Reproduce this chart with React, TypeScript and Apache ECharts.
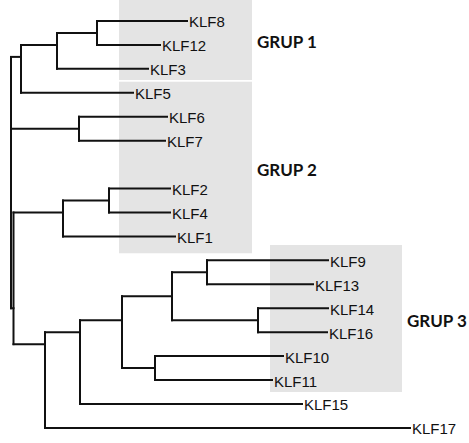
import React, { useEffect, useRef } from "react";
import * as echarts from "echarts";

// Leaves (tips) of the tree
const leafNames = ["KLF8", "KLF12", "KLF3", "KLF5", "KLF6", "KLF7", "KLF2", "KLF4", "KLF1", "KLF9", "KLF13", "KLF14", "KLF16", "KLF10", "KLF11", "KLF15", "KLF17"];
const leafRows = [0, 1, 2, 3, 4, 5, 7, 8, 9, 10, 11, 12, 13, 14, 15, 16, 17];
const leafDepths = [1.76, 1.49, 1.37, 1.22, 1.56, 1.54, 1.59, 1.59, 1.64, 3.17, 3.02, 3.17, 3.16, 2.72, 2.61, 2.91, 3.99];

// Internal nodes
const nodeNames = ["root", "C", "B", "A", "D", "P", "F", "E", "Q", "Q2", "R", "S", "N913", "N1416", "N1011"];
const nodeDepths = [0, 0.1, 0.46, 0.86, 0.68, 0.025, 0.52, 0.98, 0.34, 0.69, 1.11, 1.61, 1.96, 2.47, 1.44];
const nodeChildren = [
  ["C", "D", "P"],
  ["B", "KLF5"],
  ["A", "KLF3"],
  ["KLF8", "KLF12"],
  ["KLF6", "KLF7"],
  ["F", "Q"],
  ["E", "KLF1"],
  ["KLF2", "KLF4"],
  ["Q2", "KLF17"],
  ["R", "KLF15"],
  ["S", "N1011"],
  ["N913", "N1416"],
  ["KLF9", "KLF13"],
  ["KLF14", "KLF16"],
  ["KLF10", "KLF11"],
];

// Groups
const groupNames = ["GRUP 1", "GRUP 2", "GRUP 3"];
const groupRowStart = [-0.88, 2.54, 9.36];
const groupRowEnd = [2.46, 9.7, 15.5];
const groupDepthStart = [1.08, 1.08, 2.59];
const groupDepthEnd = [2.41, 2.41, 3.91];

function leafRowsOf(name: string): number[] {
  const li = leafNames.indexOf(name);
  if (li >= 0) return [leafRows[li]];
  const ni = nodeNames.indexOf(name);
  let out: number[] = [];
  nodeChildren[ni].forEach((c) => (out = out.concat(leafRowsOf(c))));
  return out;
}
function posOf(name: string): [number, number] {
  const li = leafNames.indexOf(name);
  if (li >= 0) return [leafDepths[li], leafRows[li]];
  const ni = nodeNames.indexOf(name);
  const rows = leafRowsOf(name);
  const mean = rows.reduce((a, b) => a + b, 0) / rows.length;
  return [nodeDepths[ni], mean];
}

function buildSegments(): number[][] {
  const segs: number[][] = [];
  nodeNames.forEach((n, i) => {
    const d = posOf(n)[0];
    const ys = nodeChildren[i].map((c) => posOf(c)[1]);
    segs.push([d, Math.min(...ys), d, Math.max(...ys)]);
    nodeChildren[i].forEach((c) => {
      const [cd, cy] = posOf(c);
      segs.push([d, cy, cd, cy]);
    });
  });
  return segs;
}

export default function App() {
  const ref = useRef<HTMLDivElement>(null);
  useEffect(() => {
    if (!ref.current) return;
    const chart = echarts.init(ref.current, undefined, { renderer: "svg" });
    const segments = buildSegments();
    const leafData = leafNames.map((_, i) => [leafDepths[i], leafRows[i]]);
    const groupData = groupNames.map((_, i) => [groupDepthStart[i], groupRowStart[i], groupDepthEnd[i], groupRowEnd[i]]);
    chart.setOption({
      animation: false,
      backgroundColor: "#ffffff",
      grid: { left: 0, right: 0, top: 0, bottom: 0 },
      xAxis: { type: "value", min: -0.11, max: 4.58, show: false },
      yAxis: { type: "value", min: -0.877, max: 17.63, inverse: true, show: false },
      series: [
        {
          type: "custom",
          data: groupData,
          encode: { x: [0, 2], y: [1, 3] },
          z: 1,
          renderItem: (params: any, api: any) => {
            const p1 = api.coord([api.value(0), api.value(1)]);
            const p2 = api.coord([api.value(2), api.value(3)]);
            return {
              type: "group",
              children: [
                {
                  type: "rect",
                  shape: { x: p1[0], y: p1[1], width: p2[0] - p1[0], height: p2[1] - p1[1] },
                  style: { fill: "#e4e4e4" },
                },
                {
                  type: "text",
                  x: p2[0] + 5,
                  y: (p1[1] + p2[1]) / 2 + 2,
                  style: {
                    text: groupNames[params.dataIndex],
                    fontFamily: "Lato",
                    fontWeight: "bold",
                    fontSize: 17,
                    fill: "#111111",
                    textVerticalAlign: "middle",
                    textAlign: "left",
                  },
                },
              ],
            };
          },
        },
        {
          type: "custom",
          data: segments,
          encode: { x: [0, 2], y: [1, 3] },
          z: 2,
          renderItem: (params: any, api: any) => {
            const p1 = api.coord([api.value(0), api.value(1)]);
            const p2 = api.coord([api.value(2), api.value(3)]);
            return {
              type: "line",
              shape: { x1: p1[0], y1: p1[1], x2: p2[0], y2: p2[1] },
              style: { stroke: "#111111", lineWidth: 2, lineCap: "square" },
            };
          },
        },
        {
          type: "custom",
          data: leafData,
          encode: { x: 0, y: 1 },
          z: 3,
          renderItem: (params: any, api: any) => {
            const p = api.coord([api.value(0), api.value(1)]);
            return {
              type: "text",
              x: p[0] + 2,
              y: p[1] + 1,
              style: {
                text: leafNames[params.dataIndex],
                fontFamily: "Liberation Sans",
                fontSize: 15,
                fill: "#111111",
                textVerticalAlign: "middle",
                textAlign: "left",
              },
            };
          },
        },
      ],
    });
    return () => chart.dispose();
  }, []);
  return (
    <div
      ref={ref}
      style={{ position: "fixed", left: 0, top: 0, width: 469, height: 443, background: "#fff" }}
    />
  );
}
